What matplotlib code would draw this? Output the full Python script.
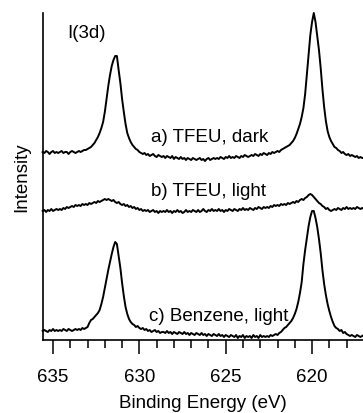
import matplotlib
matplotlib.use("Agg")
import matplotlib.pyplot as plt
from matplotlib.ticker import MultipleLocator
import numpy as np

plt.rcParams['font.family'] = ['Liberation Sans', 'DejaVu Sans']
plt.rcParams['font.size'] = 13.5

# binding energy grid (eV), 0.1 eV steps from 635.6 down to 617.0
energy = np.linspace(635.6, 617.0, 187)

# intensities (arbitrary units, traces already offset)
tfeu_dark = [
    188, 187, 189, 188, 186, 188, 189, 187, 188, 187,
    188, 189, 187, 188, 188, 186, 188, 189, 188, 187,
    188, 189, 188, 189, 190, 190, 191, 192, 193, 195,
    197, 200, 203, 207, 212, 218, 228, 241, 254, 265,
    274, 280, 284, 284, 270, 257, 241, 228, 216, 207,
    202, 198, 195, 193, 191, 190, 188, 187, 186, 187,
    185, 186, 184, 185, 186, 184, 183, 185, 184, 183,
    184, 182, 184, 183, 182, 184, 181, 183, 182, 181,
    183, 181, 182, 180, 182, 181, 180, 182, 181, 180,
    181, 182, 180, 181, 179, 181, 182, 180, 181, 182,
    181, 182, 181, 183, 182, 181, 183, 182, 184, 182,
    183, 182, 184, 183, 182, 184, 183, 185, 184, 183,
    184, 185, 184, 186, 185, 184, 186, 185, 187, 186,
    185, 187, 186, 188, 187, 188, 189, 188, 190, 191,
    192, 193, 194, 195, 197, 199, 202, 206, 211, 216,
    223, 232, 246, 266, 287, 305, 318, 327, 318, 304,
    290, 272, 251, 233, 219, 209, 203, 199, 196, 193,
    192, 190, 189, 187, 188, 186, 185, 186, 184, 185,
    184, 183, 184, 182, 183, 182, 182,
]
tfeu_light = [
    129, 130, 128, 130, 129, 131, 129, 130, 131, 130,
    131, 130, 132, 131, 133, 132, 133, 134, 133, 135,
    134, 135, 134, 136, 135, 136, 135, 137, 136, 137,
    138, 137, 139, 138, 139, 140, 141, 140, 141, 140,
    139, 140, 138, 137, 138, 136, 135, 136, 134, 135,
    133, 134, 132, 133, 131, 132, 130, 131, 129, 130,
    129, 130, 128, 129, 130, 128, 129, 127, 129, 128,
    129, 128, 130, 128, 129, 127, 129, 128, 130, 128,
    129, 127, 128, 130, 128, 129, 128, 130, 129, 128,
    130, 128, 129, 131, 129, 128, 130, 129, 131, 129,
    130, 129, 131, 129, 130, 128, 130, 129, 131, 130,
    129, 131, 130, 129, 131, 130, 132, 130, 131, 130,
    132, 131, 130, 132, 131, 133, 132, 131, 133, 132,
    133, 132, 134, 133, 135, 134, 135, 134, 136, 135,
    136, 135, 137, 136, 137, 138, 137, 139, 138, 140,
    141, 140, 142, 143, 145, 146, 145, 143, 141, 139,
    137, 136, 134, 133, 131, 132, 130, 129, 130, 131,
    130, 132, 131, 130, 132, 131, 133, 131, 132, 131,
    132, 131, 133, 132, 131, 132, 131,
]
benzene_light = [
    9, 10, 9, 8, 10, 9, 11, 9, 10, 9,
    10, 9, 11, 10, 9, 11, 10, 9, 10, 11,
    10, 11, 10, 12, 11, 12, 13, 17, 20, 21,
    23, 25, 27, 30, 36, 43, 52, 61, 70, 78,
    86, 93, 98, 96, 84, 72, 57, 44, 33, 26,
    21, 18, 16, 15, 13, 14, 12, 11, 12, 10,
    11, 9, 10, 8, 9, 10, 8, 9, 7, 8,
    8, 7, 9, 7, 8, 6, 8, 7, 6, 8,
    7, 6, 8, 6, 7, 5, 7, 6, 5, 7,
    6, 5, 7, 5, 6, 4, 6, 5, 4, 6,
    5, 4, 6, 4, 5, 3, 5, 4, 3, 5,
    4, 3, 5, 2, 4, 3, 5, 2, 4, 3,
    4, 2, 5, 3, 4, 2, 5, 3, 4, 3,
    4, 3, 5, 4, 5, 6, 5, 7, 8, 10,
    12, 13, 15, 17, 19, 22, 26, 31, 38, 47,
    58, 76, 90, 102, 114, 123, 129, 129, 122, 113,
    101, 87, 70, 56, 45, 36, 29, 23, 18, 14,
    12, 11, 9, 10, 7, 8, 6, 5, 4, 5,
    4, 3, 5, 4, 3, 4, 5,
]
trace_labels = ['a) TFEU, dark', 'b) TFEU, light', 'c) Benzene, light']
label_x = [625.94, 625.97, 625.39]
label_y = [203, 149, 24]

fig = plt.figure(figsize=(3.63, 4.14), dpi=100)
ax = fig.add_axes([43 / 363, 73 / 414, 320 / 363, 327 / 414])

for trace in (tfeu_dark, tfeu_light, benzene_light):
    ax.plot(energy, trace, color='black', lw=1.4, clip_on=False)

for txt, x, y in zip(trace_labels, label_x, label_y):
    ax.text(x, y, txt, ha='center', va='center')
ax.text(634.2, 308, 'I(3d)', ha='left', va='center')

ax.set_xlim(635.58, 617.05)
ax.set_ylim(0, 327)
ax.spines['top'].set_visible(False)
ax.spines['right'].set_visible(False)
ax.spines['left'].set_linewidth(1.2)
ax.spines['bottom'].set_linewidth(1.2)
ax.set_yticks([])
ax.xaxis.set_major_locator(MultipleLocator(5))
ax.xaxis.set_minor_locator(MultipleLocator(1))
ax.tick_params(axis='x', which='major', length=10, width=1.1, pad=10)
ax.tick_params(axis='x', which='minor', length=6, width=1.1)
ax.set_xlabel('Binding Energy (eV)', labelpad=7)
ax.set_ylabel('Intensity', labelpad=9)

fig.savefig('out.png', dpi=100)
